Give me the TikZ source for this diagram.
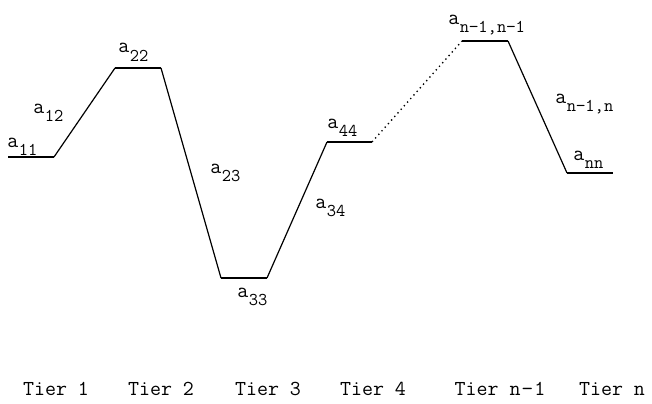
\documentclass[tikz,border=0pt]{standalone}
\usepackage{fontspec}
\usetikzlibrary{positioning, calc}
\newcommand{\elem}[2]{#1\kern0.5pt\raisebox{-6pt}{\fontsize{13.5}{13.5}\selectfont\addfontfeature{FakeBold=0.6}#2}}

\begin{document}
\begin{tikzpicture}[x=0.75pt, y=-0.75pt,
    font=\ttfamily\fontsize{16}{18}\selectfont\addfontfeature{FakeBold=0.6},
    level/.style={line width=1.6pt},
    link/.style={line width=0.9pt},
    dots/.style={line width=1pt, dash pattern=on 1pt off 2.6pt},
    lab/.style={anchor=base west, inner sep=0pt},
    tier/.style={anchor=base, inner sep=0pt}]
      \useasboundingbox (0,0) rectangle (652,403);
      % energy levels, one per tier
      \coordinate (l1a) at (8,157);   \coordinate (l1b) at (54,157);
      \coordinate (l2a) at (115,68);  \coordinate (l2b) at (161,68);
      \coordinate (l3a) at (221,278); \coordinate (l3b) at (267,278);
      \coordinate (l4a) at (327,142); \coordinate (l4b) at (372,142);
      \coordinate (lma) at (462,41);  \coordinate (lmb) at (508,41);
      \coordinate (lna) at (567,173); \coordinate (lnb) at (613,173);

      \foreach \t in {1,2,3,4,m,n}
        \draw[level] (l\t a) -- (l\t b);

      \draw[link] (l1b) -- (l2a);
      \draw[link] (l2b) -- (l3a);
      \draw[link] (l3b) -- (l4a);
      \draw[dots] (l4b) -- (lma);
      \draw[link] (lmb) -- (lna);

      % labels
      \node[lab] (a11) at (7,147)   {\elem{a}{11}};
      \node[lab] (a12) at (33,113)  {\elem{a}{12}};
      \node[lab] (a22) at (118,53)  {\elem{a}{22}};
      \node[lab] (a23) at (210,173) {\elem{a}{23}};
      \node[lab] (a33) at (237,297) {\elem{a}{33}};
      \node[lab] (a34) at (315,208) {\elem{a}{34}};
      \node[lab] (a44) at (327,128) {\elem{a}{44}};
      \node[lab] (amm) at (448,25)  {\elem{a}{n−1,n−1}};
      \node[lab] (amn) at (555,103) {\elem{a}{n−1,n}};
      \node[lab] (ann) at (573,160) {\elem{a}{nn}};

      \node[tier] (t1) at (56,395)  {Tier 1};
      \node[tier] (t2) at (161,395) {Tier 2};
      \node[tier] (t3) at (268,395) {Tier 3};
      \node[tier] (t4) at (373,395) {Tier 4};
      \node[tier] (tm) at (500,395) {Tier n\kern1pt−\kern1pt1};
      \node[tier] (tn) at (612,395) {Tier n};
    \end{tikzpicture}
\end{document}
